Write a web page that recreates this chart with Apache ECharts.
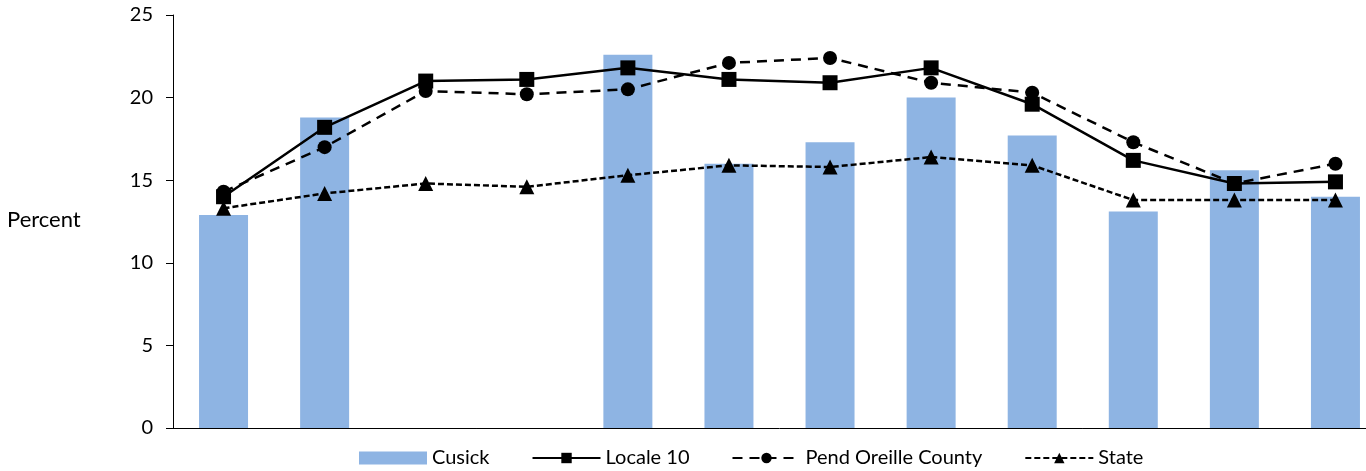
<!DOCTYPE html>
<html>
<head>
<meta charset="utf-8">
<script src="https://cdn.jsdelivr.net/npm/echarts@6/dist/echarts.min.js"></script>
<style>
  html, body { margin: 0; padding: 0; background: #fff; overflow: hidden; }
  /* the original picture cuts off the right end of the plot, so the chart is wider than the window */
  #chart { width: 1386px; height: 471px; }
</style>
</head>
<body>
<div id="chart"></div>
<script>
// categories have no printed labels in the original
var categories = ['1', '2', '3', '4', '5', '6', '7', '8', '9', '10', '11', '12'];
var cusick = [12.9, 18.8, null, null, 22.6, 16.0, 17.3, 20.0, 17.7, 13.1, 15.6, 14.0];
var locale10 = [14.0, 18.2, 21.0, 21.1, 21.8, 21.1, 20.9, 21.8, 19.6, 16.2, 14.8, 14.9];
var pendOreille = [14.3, 17.0, 20.4, 20.2, 20.5, 22.1, 22.4, 20.9, 20.3, 17.3, 14.8, 16.0];
var state = [13.3, 14.2, 14.8, 14.6, 15.3, 15.9, 15.8, 16.4, 15.9, 13.8, 13.8, 13.8];
var yTicks = { min: 0, max: 25, interval: 5 };

var chart = echarts.init(document.getElementById('chart'));

var font = 'Lato, "Open Sans", sans-serif';

chart.setOption({
  animation: false,
  textStyle: { fontFamily: font },
  grid: {
    left: 173,
    top: 15,
    bottom: 43,
    right: 0
  },
  legend: {
    left: 354,
    top: 443,
    itemGap: 42,
    itemWidth: 68,
    itemHeight: 13,
    textStyle: { fontSize: 20, color: '#000', fontFamily: font },
    data: [
      { name: 'Cusick', icon: 'rect', itemStyle: { color: '#8EB4E3' } },
      { name: 'Locale 10' },
      { name: 'Pend Oreille County' },
      { name: 'State' }
    ]
  },
  graphic: [{
    type: 'text',
    left: 7,
    top: 209,
    style: { text: 'Percent', fontSize: 22, fill: '#000', fontFamily: font }
  }],
  xAxis: {
    type: 'category',
    data: categories,
    axisLine: { lineStyle: { color: '#000', width: 1 } },
    axisTick: { show: false },
    axisLabel: { show: false },
    splitLine: { show: false }
  },
  yAxis: {
    type: 'value',
    min: yTicks.min,
    max: yTicks.max,
    interval: yTicks.interval,
    axisLine: { show: true, lineStyle: { color: '#000', width: 1 } },
    axisTick: { show: true, inside: false, length: 7, lineStyle: { color: '#000' } },
    axisLabel: { fontSize: 20, color: '#000', margin: 20 },
    splitLine: { show: false }
  },
  series: [
    {
      name: 'Cusick',
      type: 'bar',
      data: cusick,
      barWidth: 49,
      itemStyle: { color: '#8EB4E3' },
      z: 1
    },
    {
      name: 'Locale 10',
      type: 'line',
      data: locale10,
      symbol: 'rect',
      symbolSize: 15,
      itemStyle: { color: '#000' },
      lineStyle: { color: '#000', width: 2.5, type: 'solid' },
      z: 3
    },
    {
      name: 'Pend Oreille County',
      type: 'line',
      data: pendOreille,
      symbol: 'circle',
      symbolSize: 14,
      itemStyle: { color: '#000' },
      lineStyle: { color: '#000', width: 2.5, type: [10, 7] },
      z: 2
    },
    {
      name: 'State',
      type: 'line',
      data: state,
      symbol: 'triangle',
      symbolSize: 15,
      itemStyle: { color: '#000' },
      lineStyle: { color: '#000', width: 2.5, type: [6, 3] },
      z: 2
    }
  ]
});
</script>
</body>
</html>
